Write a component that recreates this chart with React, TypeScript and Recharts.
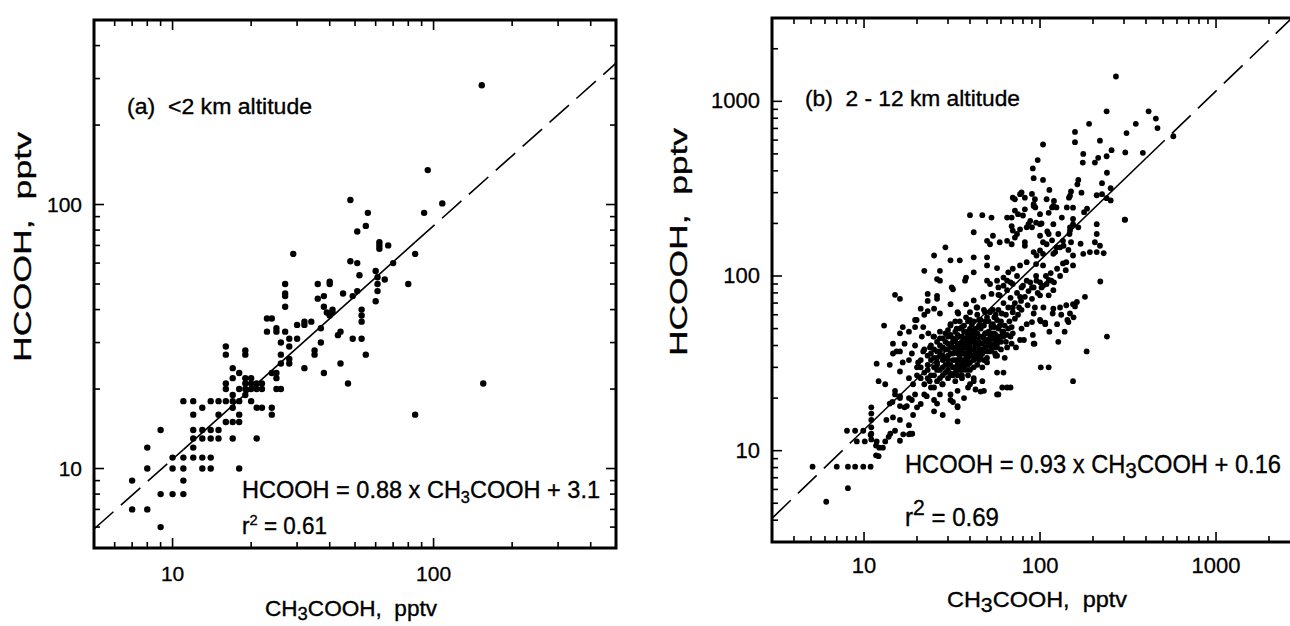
import React from "react";
import {
  ScatterChart,
  Scatter,
  XAxis,
  YAxis,
  ReferenceArea,
  ReferenceLine,
} from "recharts";

const FONT = "'Liberation Sans', Arial, Helvetica, sans-serif";

// (a) below 2 km: [CH3COOH, HCOOH] in pptv
const lowAltitude: [number, number][] = [
  [7, 9], [7, 7], [8, 12], [8, 10], [8, 7], [9, 8], [9, 6], [9, 14],
  [10, 11], [10, 10], [10, 8], [11, 8], [11, 11], [11, 10], [11, 9], [11, 18],
  [12, 18], [12, 16], [12, 14], [12, 13], [12, 12], [12, 11],
  [13, 17], [13, 14], [13, 13], [13, 11], [13, 10],
  [14, 18], [14, 14], [14, 13], [14, 11], [14, 10],
  [15, 18], [15, 16], [15, 14], [15, 13],
  [16, 29], [16, 27], [16, 21], [16, 20], [16, 18], [16, 15],
  [17, 22], [17, 19], [17, 18], [17, 17], [17, 15], [17, 13], [17, 24],
  [18, 15], [18, 20], [18, 18], [18, 23], [18, 10], [18, 16],
  [19, 28], [19, 27], [19, 22], [19, 20], [19, 19], [19, 21],
  [20, 22], [20, 20], [20, 18], [20, 21],
  [21, 21], [21, 17], [21, 13], [21, 20],
  [22, 21], [22, 20], [22, 17],
  [24, 17], [24, 16], [24, 23],
  [25, 20], [25, 22], [25, 23], [26, 20],
  [23, 33], [23, 37], [24, 37], [25, 33], [25, 34],
  [26, 30], [26, 27], [26, 25], [27, 41], [27, 45], [27, 50], [27, 46],
  [27, 33], [28, 31], [28, 29], [28, 26], [28, 25], [29, 65],
  [30, 31], [30, 35], [32, 24], [32, 35], [32, 36], [34, 36], [35, 28], [35, 27],
  [36, 50], [36, 44], [37, 34], [37, 30], [38, 45], [38, 41], [38, 23],
  [39, 39], [40, 38], [40, 50], [40, 51], [41, 40], [41, 39],
  [43, 32], [44, 33], [44, 25], [45, 46], [47, 21], [48, 104], [48, 61],
  [49, 45], [49, 31], [51, 79], [51, 60], [52, 54], [51, 47],
  [53, 40], [53, 36], [53, 38], [53, 31], [55, 83], [56, 93], [55, 27],
  [60, 56], [60, 43], [61, 53], [61, 50], [61, 47], [62, 72], [62, 70], [62, 68],
  [67, 70], [65, 52], [70, 60], [80, 50], [85, 65], [85, 16],
  [92, 93], [95, 135], [108, 101], [153, 283], [155, 21],
];

// (b) 2 - 12 km: outer and upper part of the cloud
const midAltitudeUpper: [number, number][] = [
  [270, 1387], [239, 877], [190, 743], [158, 668], [158, 584], [104, 566], [97, 461], [91, 413],
  [92, 363], [104, 355], [113, 311], [414, 877], [455, 797], [465, 703], [350, 743], [310, 658],
  [384, 507], [305, 510], [572, 631], [219, 595], [255, 525], [239, 485], [214, 475], [205, 446],
  [176, 500], [175, 446], [240, 390], [225, 340], [252, 318], [165, 355], [163, 335], [150, 305],
  [146, 281], [172, 300], [210, 290], [225, 294], [239, 279], [252, 271], [303, 210], [185, 243],
  [210, 198], [210, 174], [205, 156], [219, 149], [230, 135], [178, 232], [170, 153], [154, 212],
  [148, 190], [142, 247], [133, 216], [120, 269], [117, 247], [124, 247], [112, 230], [102, 200],
  [100, 170], [92, 258], [94, 247], [82, 281], [77, 294], [70, 281], [72, 237], [65, 216],
  [80, 222], [88, 207], [90, 190], [84, 190], [69, 193], [74, 174], [110, 180], [117, 160],
  [127, 174], [124, 146], [136, 149], [122, 137], [147, 174], [150, 156], [145, 141], [176, 134],
  [192, 137], [210, 137], [104, 156], [104, 134], [92, 137], [82, 149],
  [40, 223], [47, 223], [53, 216], [42, 178], [29, 146], [25, 131], [22, 107], [31, 123],
  [35, 123], [42, 128], [27, 107], [26, 96], [27, 94], [16, 74], [13, 52], [23, 79],
  [23, 72], [26, 77], [26, 74], [31.5, 86], [32, 84], [21, 65], [23, 63], [25, 65],
  [19.5, 56], [22, 60], [27, 61], [31, 69], [34, 62], [38, 69], [37.5, 94], [38, 98],
  [42, 105], [50, 128], [50, 115], [57, 111], [50, 94], [57, 94], [62, 98], [66, 105],
  [70, 110], [77, 115], [84, 120], [95, 117], [104, 115], [119, 134], [130, 146], [154, 131],
  [154, 115], [141, 120], [70, 182], [77, 185], [86, 198], [95, 202], [100, 198], [69, 152],
  [72, 166], [82, 156], [52, 152], [59, 156], [65, 159], [54, 170], [50, 159], [75, 226],
  [82, 241], [92, 252], [93.5, 275], [109, 275], [119, 252], [78.5, 301], [72, 275], [69, 216],
  [90, 295], [100, 226], [119, 198], [112, 174], [135, 159], [109, 152], [100, 140], [95.5, 131],
  [154, 198], [148, 182], [165, 190], [154, 246], [148, 288],
];

// (b) middle of the cloud
const midAltitudeCentre: [number, number][] = [
  [92, 41], [77, 43], [69, 41], [62, 45], [70, 47], [78.5, 50], [84, 53], [90, 54.5],
  [100, 56], [107, 54], [92, 61], [104.5, 66], [93.5, 66], [119, 65], [130, 66], [141, 68],
  [154, 69], [162, 71], [132, 60], [148, 61], [145, 54.5], [127, 42], [112, 30], [154, 25],
  [65, 39], [57, 41], [55.5, 36], [63, 34], [57, 28], [62, 28], [68, 23], [61, 23],
  [58, 21], [48, 22], [47, 25], [42, 25], [39, 23], [34, 22], [37, 20], [32, 19],
  [34, 18], [27, 21], [25, 19.5], [22.7, 20.5], [21, 18.5], [18.7, 19.5], [17.5, 18], [16, 20.5],
  [15, 22], [13.2, 24], [12.1, 25], [11.8, 31.5],
  [14.6, 41], [15.3, 37], [16.6, 32], [18.7, 36], [20.3, 32], [21.7, 37], [23.7, 39], [21.3, 45],
  [16, 47], [16.6, 51], [19.9, 56], [19.5, 51], [21.7, 51], [23.2, 47], [24.8, 45], [27, 48],
  [30, 45], [31, 53], [33.6, 50], [36, 51], [34.3, 61], [40, 56], [42, 49], [45.6, 51],
  [48.7, 47], [53, 51], [57, 56], [60.6, 61], [54, 64], [48.7, 62], [43.6, 66], [42, 72.5],
  [47.6, 76], [53, 79], [59, 77.5], [65, 83], [58, 86], [52, 90], [65, 94], [70, 90],
  [78.5, 86], [84, 94], [90, 86], [95.5, 94], [102, 86], [109, 90], [116, 94], [119, 83],
  [112, 77.5], [100, 77.5], [77, 76], [70, 66], [78.5, 64],
  [20, 30], [21, 33], [22, 28], [22, 38], [23, 31], [23, 35], [24, 27], [24, 40],
  [25, 30], [25, 34], [25, 45], [26, 29], [26, 37], [26, 32], [27, 26], [27, 40],
  [27, 35], [28, 30], [28, 44], [28, 33], [29, 28], [29, 38], [29, 47], [30, 31],
  [30, 35], [30, 41], [31, 27], [31, 36], [31, 52], [32, 30], [32, 39], [32, 44],
  [33, 33], [33, 28], [33, 48], [34, 36], [34, 41], [34, 31], [35, 29], [35, 38],
  [35, 45], [35, 55], [36, 33], [36, 42], [37, 36], [37, 30], [37, 48], [38, 39],
  [38, 34], [38, 44], [39, 31], [39, 41], [40, 36], [40, 50], [40, 29], [41, 38],
  [41, 44], [42, 33], [42, 47], [43, 40], [43, 36], [44, 31], [44, 43], [45, 38],
  [45, 52], [46, 35], [46, 41], [47, 45], [47, 30], [48, 38], [49, 42], [50, 34],
  [50, 47], [51, 40], [52, 37], [53, 44], [54, 40], [55, 47], [56, 35], [57, 43],
  [58, 50], [60, 38], [60, 45], [62, 48], [64, 42], [66, 50], [68, 45], [28, 24],
  [30, 26], [33, 25], [36, 26], [39, 27], [42, 26], [24, 23], [26, 25],
  [38, 58], [40, 62], [42, 55], [44, 60], [46, 56], [48, 64], [50, 58], [52, 62],
  [54, 53], [56, 60], [44, 66], [47, 52], [39, 46], [41, 53], [49, 55], [43, 44],
  [51, 43], [53, 47], [36, 40], [37, 44],
  [55, 58], [58, 64], [60, 55], [62, 70], [64, 60], [66, 66], [68, 75], [70, 62],
  [72, 70], [74, 80], [76, 66], [78, 72], [80, 88], [82, 76], [85, 68], [86, 82],
  [88, 92], [90, 74], [92, 86], [95, 100], [97, 80], [100, 92], [104, 88], [108, 100],
  [112, 95], [115, 104], [120, 92], [125, 110], [130, 100], [135, 118], [140, 108], [62, 88],
  [68, 92], [74, 100], [58, 78],
];

// (b) the solid black core between about 20 and 70 pptv
const midAltitudeCore: [number, number][] = [
  [21, 26], [22, 24], [23, 29], [24, 33], [24, 36], [25, 27], [25, 38], [26, 31],
  [26, 34], [26, 42], [27, 29], [27, 37], [27, 44], [28, 27], [28, 35], [28, 39],
  [29, 31], [29, 34], [29, 42], [30, 29], [30, 33], [30, 38], [30, 49], [31, 31],
  [31, 40], [31, 46], [32, 27], [32, 33], [32, 36], [32, 42], [33, 30], [33, 38],
  [33, 43], [33, 55], [34, 27], [34, 33], [34, 39], [34, 46], [35, 31], [35, 35],
  [35, 41], [35, 50], [36, 29], [36, 37], [36, 45], [37, 32], [37, 39], [37, 52],
  [38, 29], [38, 36], [38, 41], [38, 48], [39, 34], [39, 38], [39, 43], [39, 55],
  [40, 32], [40, 40], [40, 45], [41, 35], [41, 42], [41, 48], [42, 30], [42, 38],
  [42, 44], [43, 34], [43, 42], [43, 50], [44, 36], [44, 40], [44, 47], [45, 33],
  [45, 42], [45, 56], [46, 38], [46, 45], [46, 50], [47, 36], [47, 41], [48, 33],
  [48, 44], [48, 52], [49, 39], [49, 47], [50, 37], [50, 43], [51, 48], [51, 55],
  [52, 41], [52, 46], [53, 38], [53, 52], [54, 44], [55, 41], [55, 51], [56, 46],
  [57, 39], [58, 45], [59, 52], [60, 42], [61, 48], [63, 52], [65, 46], [67, 55],
  [69, 51], [72, 57], [75, 60], [20, 27], [19, 24], [18, 26], [21, 30], [23, 26],
];

// (b) lower tail and scattered low points
const midAltitudeLower: [number, number][] = [
  [15, 21], [16, 20], [14.5, 19], [14, 18.6], [16, 18], [17, 17.7], [18, 20], [19.5, 21],
  [20, 17.7], [19, 16], [18, 14], [16, 15], [14.6, 15.5], [13.4, 15], [13.8, 12], [15, 13],
  [16.7, 12.4], [18, 12.4],
  [11, 17.7], [11, 16.3], [11, 15], [11, 13.6], [11, 12.5], [11, 11.6], [11.7, 10.7], [11.7, 9.4],
  [5.1, 8.1], [6.1, 5.1], [8.1, 6.1], [7, 8.1], [8.1, 8.1], [8.9, 8.1], [9.9, 8.1], [10.9, 8.1],
  [9.1, 11.3], [10.1, 11.3], [8, 13], [8.9, 13], [9.9, 13], [10.9, 12.3], [11.8, 11.3], [13.2, 11.3],
  [12.2, 10.4], [12.8, 10.4], [12.1, 9.3], [14.1, 12.5], [16, 11.4], [18.3, 12.5], [18.8, 12.5],
  [23.6, 25], [25, 23], [22, 21], [27.8, 24], [31, 19.5], [34, 17.7], [34, 14.7], [31, 21],
  [26, 18.6], [25, 16.8], [28, 16], [36, 27], [40, 24], [43, 22.4], [46, 21.8], [57, 21],
  [65, 23], [31, 27.7], [34, 29], [39, 32], [45, 34], [50, 32], [57, 35], [54, 39],
  [73, 39], [81, 43], [101, 30], [138, 48], [143, 56], [158, 67], [180, 76], [155, 58],
  [184, 37], [240, 45], [220, 93], [304, 210], [113, 48], [101, 55], [91, 46], [93, 41],
  [107, 53], [125, 53], [118, 61], [15, 78], [14, 31], [16, 28.4], [14.6, 36], [16, 37],
  [18, 33], [17, 41], [19.5, 40], [18, 48],
];

// regression lines: ends and the points where the dashes give way to a solid line
const fitLowX = [5, 11, 85, 500];
const fitLowY = [5.9, 11.8, 72, 343];
const fitMidX = [3, 9, 400, 2700];
const fitMidY = [4.1, 11.9, 472, 3000];

const ticksLow = [6, 7, 8, 9, 10, 20, 30, 40, 50, 60, 70, 80, 90, 100, 200, 300, 400];
const ticksMid = [
  4, 5, 6, 7, 8, 9, 10, 20, 30, 40, 50, 60, 70, 80, 90,
  100, 200, 300, 400, 500, 600, 700, 800, 900, 1000, 2000,
];

const isMajor = (v: number) =>
  Math.abs(Math.log10(v) - Math.round(Math.log10(v))) < 1e-6;

function BottomTick({ x, y, payload, plotH, font, dy }: any) {
  const v = payload.value;
  const major = isMajor(v);
  const len = major ? 10 : 6;
  return (
    <g>
      <line x1={x} y1={y} x2={x} y2={y - len} stroke="#000" strokeWidth={1.6} />
      <line x1={x} y1={y - plotH} x2={x} y2={y - plotH + len} stroke="#000" strokeWidth={1.6} />
      {major && (
        <text x={x} y={y + dy} textAnchor="middle" fontSize={font} fontFamily={FONT} fill="#000" stroke="#000" strokeWidth={0.3}>
          {v}
        </text>
      )}
    </g>
  );
}

function LeftTick({ x, y, payload, plotW, font }: any) {
  const v = payload.value;
  const major = isMajor(v);
  const len = major ? 10 : 6;
  return (
    <g>
      <line x1={x} y1={y} x2={x + len} y2={y} stroke="#000" strokeWidth={1.6} />
      <line x1={x + plotW} y1={y} x2={x + plotW - len} y2={y} stroke="#000" strokeWidth={1.6} />
      {major && (
        <text x={x - 12} y={y + 7} textAnchor="end" fontSize={font} fontFamily={FONT} fill="#000" stroke="#000" strokeWidth={0.3}>
          {v}
        </text>
      )}
    </g>
  );
}

type PanelProps = {
  series: [number, number][][];
  fitX: number[];
  fitY: number[];
  domain: [number, number];
  ticks: number[];
  width: number;
  left: number;
  top: number;
  plotW: number;
  plotH: number;
  dot: number;
  tickFont: number;
  labelDy: number;
};

function Panel(p: PanelProps) {
  const seg = (i: number) => [
    { x: p.fitX[i], y: p.fitY[i] },
    { x: p.fitX[i + 1], y: p.fitY[i + 1] },
  ];
  const dotShape = (props: any) => <circle cx={props.cx} cy={props.cy} r={p.dot} fill="#000" />;
  return (
    <ScatterChart
      width={p.width}
      height={626}
      margin={{ top: p.top, right: p.width - p.left - p.plotW, bottom: 0, left: 0 }}
    >
      <XAxis
        dataKey="x"
        type="number"
        scale="log"
        domain={p.domain}
        allowDataOverflow
        ticks={p.ticks}
        interval={0}
        axisLine={false}
        tickLine={false}
        tickSize={0}
        tickMargin={0}
        height={626 - p.top - p.plotH}
        tick={(t: any) => <BottomTick {...t} plotH={p.plotH} font={p.tickFont} dy={p.labelDy} />}
      />
      <YAxis
        dataKey="y"
        type="number"
        scale="log"
        domain={p.domain}
        allowDataOverflow
        ticks={p.ticks}
        interval={0}
        axisLine={false}
        tickLine={false}
        tickSize={0}
        tickMargin={0}
        width={p.left}
        tick={(t: any) => <LeftTick {...t} plotW={p.plotW} font={p.tickFont} />}
      />
      <ReferenceArea
        x1={p.domain[0]}
        x2={p.domain[1]}
        y1={p.domain[0]}
        y2={p.domain[1]}
        fill="none"
        stroke="#000"
        strokeWidth={3}
        ifOverflow="visible"
      />
      <ReferenceLine segment={seg(0)} stroke="#000" strokeWidth={1.6} strokeDasharray="26 10" ifOverflow="visible" />
      <ReferenceLine segment={seg(1)} stroke="#000" strokeWidth={1.6} ifOverflow="visible" />
      <ReferenceLine segment={seg(2)} stroke="#000" strokeWidth={1.6} strokeDasharray="26 10" ifOverflow="visible" />
      {p.series.map((pts, i) => (
        <Scatter
          key={i}
          data={pts.map(([x, y]) => ({ x, y }))}
          fill="#000"
          shape={dotShape}
          isAnimationActive={false}
        />
      ))}
    </ScatterChart>
  );
}

const stretch = { lengthAdjust: "spacingAndGlyphs" as const };
const heavy = { stroke: "#000", strokeWidth: 0.35 };

export default function App() {
  return (
    <div
      style={{
        position: "absolute",
        left: 0,
        top: 0,
        width: 1290,
        height: 626,
        overflow: "hidden",
        background: "#fff",
        fontFamily: FONT,
      }}
    >
      <div style={{ position: "absolute", left: 0, top: 0 }}>
        <Panel
          series={[lowAltitude]}
          fitX={fitLowX}
          fitY={fitLowY}
          domain={[5, 500]}
          ticks={ticksLow}
          width={640}
          left={94}
          top={20}
          plotW={522}
          plotH={528}
          dot={3.2}
          tickFont={21}
          labelDy={33}
        />
      </div>
      <div style={{ position: "absolute", left: 640, top: 0 }}>
        <Panel
          series={[midAltitudeUpper, midAltitudeCentre, midAltitudeCore, midAltitudeLower]}
          fitX={fitMidX}
          fitY={fitMidY}
          domain={[3, 3000]}
          ticks={ticksMid}
          width={680}
          left={132}
          top={18}
          plotW={528}
          plotH={524}
          dot={2.9}
          tickFont={22}
          labelDy={31}
        />
      </div>
      <svg
        width={1290}
        height={626}
        style={{ position: "absolute", left: 0, top: 0, pointerEvents: "none" }}
        fontFamily={FONT}
        fill="#000"
      >
        {/* panel (a) */}
        <text x={127} y={114} fontSize={22} textLength={185} {...stretch} {...heavy} style={{ whiteSpace: "pre" }}>
          {"(a)  <2 km altitude"}
        </text>
        <text x={242} y={498} fontSize={23} textLength={358} {...stretch} {...heavy}>
          HCOOH = 0.88 x CH<tspan fontSize={16} dy={5}>3</tspan>
          <tspan dy={-5}>COOH + 3.1</tspan>
        </text>
        <text x={242} y={534} fontSize={23} textLength={85} {...stretch} {...heavy}>
          r<tspan fontSize={15} dy={-9}>2</tspan>
          <tspan dy={9}> = 0.61</tspan>
        </text>
        <text
          x={31}
          y={247}
          fontSize={24}
          textAnchor="middle"
          transform="rotate(-90 31 247)"
          textLength={230}
          {...stretch}
          {...heavy}
          style={{ whiteSpace: "pre" }}
        >
          {"HCOOH,  pptv"}
        </text>
        <text x={351} y={616} fontSize={22} textAnchor="middle" textLength={172} {...stretch} {...heavy} style={{ whiteSpace: "pre" }}>
          CH<tspan fontSize={18} dy={4}>3</tspan>
          <tspan dy={-4}>{"COOH,  pptv"}</tspan>
        </text>

        {/* panel (b) */}
        <text x={805} y={106} fontSize={22} textLength={215} {...stretch} {...heavy} style={{ whiteSpace: "pre" }}>
          {"(b)  2 - 12 km altitude"}
        </text>
        <text x={905} y={473} fontSize={25} textLength={376} {...stretch} {...heavy}>
          HCOOH = 0.93 x CH<tspan fontSize={22} dy={5}>3</tspan>
          <tspan dy={-5}>COOH + 0.16</tspan>
        </text>
        <text x={905} y={526} fontSize={25} textLength={94} {...stretch} {...heavy}>
          r<tspan fontSize={22} dy={-11}>2</tspan>
          <tspan dy={11}> = 0.69</tspan>
        </text>
        <text
          x={687}
          y={242}
          fontSize={24}
          textAnchor="middle"
          transform="rotate(-90 687 242)"
          textLength={228}
          {...stretch}
          {...heavy}
          style={{ whiteSpace: "pre" }}
        >
          {"HCOOH,  pptv"}
        </text>
        <text x={1037} y={607} fontSize={22} textAnchor="middle" textLength={180} {...stretch} {...heavy} style={{ whiteSpace: "pre" }}>
          CH<tspan fontSize={20} dy={5}>3</tspan>
          <tspan dy={-5}>{"COOH,  pptv"}</tspan>
        </text>
      </svg>
    </div>
  );
}
